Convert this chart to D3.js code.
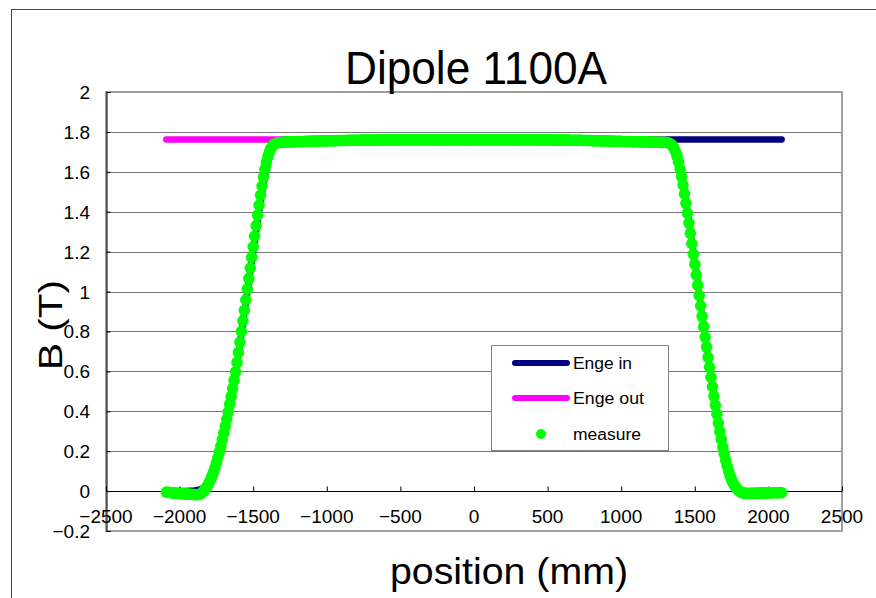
<!DOCTYPE html>
<html><head><meta charset="utf-8">
<script src="https://cdn.jsdelivr.net/npm/d3@7/dist/d3.min.js"></script>
<style>body{margin:0;background:#fff}svg{display:block}</style>
</head><body>
<svg id="chart" width="876" height="598"></svg>
<script>
// ---------------- data ----------------
const chartTitle = "Dipole 1100A";
const xTitle = "position (mm)";
const yTitle = "B (T)";
const seriesNames = ["Enge in", "Enge out", "measure"];
const xTickValues = [-2500,-2000,-1500,-1000,-500,0,500,1000,1500,2000,2500];
const xTickLabels = ["\u22122500","\u22122000","\u22121500","\u22121000","\u2212500","0","500","1000","1500","2000","2500"];
const yTickValues = [-0.2,0,0.2,0.4,0.6,0.8,1,1.2,1.4,1.6,1.8,2];
const yTickLabels = ["\u22120.2","0","0.2","0.4","0.6","0.8","1","1.2","1.4","1.6","1.8","2"];

// measured field, sampled every 10 mm starting at -2090 mm
const measureStart = -2090, measureStep = 10;
const measureB = [
-0.005,-0.006,-0.007,-0.008,-0.009,-0.010,-0.010,-0.011,-0.012,-0.012,
-0.013,-0.013,-0.014,-0.014,-0.015,-0.015,-0.016,-0.016,-0.017,-0.017,
-0.018,-0.018,-0.017,-0.015,-0.010,
-0.003,0.005,0.015,0.027,0.041,0.057,0.075,0.095,0.117,0.141,
0.167,0.195,0.225,0.257,0.291,0.325,0.360,0.397,0.435,0.474,
0.514,0.555,
0.598,0.645,0.695,0.747,0.800,0.853,0.906,0.959,1.012,1.065,
1.118,1.171,1.224,1.277,1.330,1.382,1.433,1.482,1.529,1.573,
1.613,1.648,1.677,1.700,1.717,1.729,1.736,1.741,1.744,1.746,
1.747,1.748,1.748,
1.749,1.749,1.749,1.750,1.750,1.750,1.750,1.751,1.751,
1.751,1.751,1.752,1.752,1.752,1.752,1.753,1.753,1.753,1.753,
1.754,1.754,1.754,1.754,1.754,1.755,1.755,1.755,1.755,1.755,
1.755,1.756,1.756,1.756,1.756,1.756,1.756,1.757,1.757,1.757,
1.757,1.757,1.757,1.757,1.758,1.758,1.758,1.758,1.758,1.758,
1.758,1.758,1.758,1.759,1.759,1.759,1.759,1.759,1.759,1.759,
1.759,1.759,1.759,1.759,1.759,1.760,1.760,1.760,1.760,1.760,
1.760,1.760,1.760,1.760,1.760,1.760,1.760,1.760,1.760,1.760,
1.760,1.761,1.760,1.760,1.761,1.760,1.760,1.760,1.761,1.760,
1.760,1.760,1.761,1.760,1.760,1.760,1.761,1.760,1.760,1.760,
1.761,1.760,1.760,1.761,1.760,1.760,1.761,1.760,1.761,1.760,
1.760,1.761,1.760,1.760,1.761,1.760,1.760,1.761,1.760,1.760,
1.761,1.760,1.760,1.761,1.760,1.761,1.760,1.760,1.761,1.760,
1.760,1.761,1.760,1.760,1.761,1.760,1.760,1.761,1.760,1.760,
1.761,1.760,1.760,1.760,1.761,1.760,1.760,1.761,1.760,1.760,
1.760,1.761,1.760,1.760,1.760,1.761,1.760,1.760,1.760,1.760,
1.760,1.760,1.761,1.760,1.760,1.760,1.760,1.760,1.761,1.760,
1.760,1.760,1.760,1.760,1.760,1.760,1.760,1.760,1.760,1.760,
1.760,1.760,1.760,1.759,1.760,1.759,1.759,1.759,1.759,1.759,
1.759,1.759,1.759,1.759,1.759,1.758,1.758,1.758,1.758,1.758,
1.758,1.758,1.758,1.758,1.757,1.757,1.757,1.757,1.757,1.757,
1.756,1.756,1.756,1.756,1.756,1.756,1.755,1.755,1.755,1.755,
1.755,1.754,1.754,1.754,1.754,1.754,1.753,1.753,1.753,1.753,
1.753,1.752,1.752,1.752,1.752,1.752,1.751,1.751,1.751,1.751,
1.751,1.751,1.750,1.750,1.750,1.750,1.750,1.750,1.749,1.749,
1.749,1.749,1.749,1.748,1.748,1.748,1.748,1.748,1.748,1.748,
1.748,1.747,1.745,1.742,1.737,1.729,1.717,1.700,1.677,1.648,
1.614,1.576,1.534,1.489,1.442,1.393,1.343,1.292,1.240,1.188,
1.136,1.084,1.032,0.980,0.928,0.876,0.824,0.772,0.721,0.670,
0.620,0.571,0.523,0.476,0.430,0.385,0.341,0.299,0.259,0.221,
0.186,0.154,0.125,0.099,0.076,0.057,0.041,0.028,0.017,0.008,
0.001,-0.004,-0.008,-0.010,-0.011,
-0.012,-0.012,-0.012,-0.012,-0.011,-0.011,-0.011,-0.011,-0.010,-0.010,
-0.010,-0.010,-0.010,-0.009,-0.009,-0.009,-0.009,-0.009,-0.009,-0.008,
-0.008,-0.008,-0.008,-0.008,-0.008
];

// Enge fit, entrance edge
const engeInX = [-2090,-1960,-1900,-1880,-1860,-1840,-1820,-1800,-1780,-1760,-1740,-1720,-1700,-1680,-1660,-1640,-1620,-1600,-1580,-1560,-1540,-1520,-1500,-1480,-1460,-1440,-1420,-1400,-1380,-1360,-1340,-1320,-1300,-1280,2090];
const engeInB = [0.000,0.001,0.003,0.005,0.009,0.015,0.025,0.042,0.070,0.110,0.160,0.220,0.287,0.358,0.433,0.512,0.597,0.690,0.790,0.893,0.997,1.101,1.204,1.306,1.404,1.496,1.578,1.645,1.695,1.728,1.747,1.756,1.760,1.762,1.762];
// Enge fit, exit edge
const engeOutX = [-2090,1280,1300,1320,1340,1360,1380,1400,1420,1440,1460,1480,1500,1520,1540,1560,1580,1600,1620,1640,1660,1680,1700,1720,1740,1760,1780,1800,1820,1840,1900,2090];
const engeOutB = [1.762,1.762,1.760,1.755,1.744,1.722,1.685,1.630,1.556,1.465,1.362,1.255,1.148,1.042,0.937,0.833,0.730,0.628,0.530,0.436,0.348,0.268,0.197,0.137,0.088,0.052,0.028,0.013,0.005,0.002,0.000,0.000];

const colors = {in: "#000080", out: "#ff00ff", meas: "#00ff00"};

// ---------------- drawing ----------------
const svg = d3.select("#chart");
const FONT = "'Liberation Sans Narrow','Liberation Sans',Arial,sans-serif";
const L = 106, R = 842, T = 92, B = 531;
const x = d3.scaleLinear().domain([-2500, 2500]).range([L, R]);
const y = d3.scaleLinear().domain([-0.2, 2]).range([B, T]);

// chart frame
svg.append("rect").attr("x", 11.5).attr("y", 9.5).attr("width", 900).attr("height", 700)
  .attr("fill", "#fff").attr("stroke", "#444").attr("stroke-width", 1);

// plot area
svg.append("rect").attr("x", L).attr("y", T).attr("width", R - L).attr("height", B - T).attr("fill", "#fff");

// gridlines
svg.append("g").selectAll("line").data(yTickValues.filter(v => v > 0.01 && v < 1.99)).join("line")
  .attr("x1", L).attr("x2", R)
  .attr("y1", d => Math.round(y(d)) + 0.5).attr("y2", d => Math.round(y(d)) + 0.5)
  .attr("stroke", "#767676").attr("stroke-width", 1);

// plot border
svg.append("rect").attr("x", L).attr("y", T).attr("width", R - L).attr("height", B - T)
  .attr("fill", "none").attr("stroke", "#a0a0a0").attr("stroke-width", 2);

// y axis (ticks inward)
const yAxis = d3.axisRight(y).tickValues(yTickValues).tickSize(4).tickFormat("");
const gy = svg.append("g").attr("transform", `translate(${L + 0.5},0)`).call(yAxis);
gy.select(".domain").attr("stroke", "#000");
gy.selectAll(".tick line").attr("stroke", "#000");
svg.append("g").selectAll("text").data(yTickValues).join("text")
  .attr("x", 90).attr("y", d => y(d) + 7)
  .attr("text-anchor", "end").attr("font-family", FONT).attr("font-size", 19).attr("fill", "#000")
  .text((d, i) => yTickLabels[i]);

// x axis at y=0 (ticks upward)
const xAxis = d3.axisTop(x).tickValues(xTickValues).tickSize(5).tickFormat("");
const gx = svg.append("g").attr("transform", `translate(0,${Math.round(y(0)) + 0.5})`).call(xAxis);
gx.select(".domain").attr("stroke", "#000").attr("d", `M${L},0H${R}`);
gx.selectAll(".tick line").attr("stroke", "#000");
svg.append("g").selectAll("text").data(xTickValues).join("text")
  .attr("x", d => x(d)).attr("y", 523)
  .attr("text-anchor", "middle").attr("font-family", FONT).attr("font-size", 19).attr("fill", "#000")
  .text((d, i) => xTickLabels[i]);

// series
const measure = measureB.map((b, i) => ({x: measureStart + i * measureStep, b}));
const line = d3.line().x(d => x(d[0])).y(d => y(d[1]));
svg.append("path").datum(engeInX.map((v, i) => [v, engeInB[i]])).attr("d", line)
  .attr("fill", "none").attr("stroke", colors.in).attr("stroke-width", 6.5)
  .attr("stroke-linecap", "round").attr("stroke-linejoin", "round");
svg.append("path").datum(engeOutX.map((v, i) => [v, engeOutB[i]])).attr("d", line)
  .attr("fill", "none").attr("stroke", colors.out).attr("stroke-width", 6.5)
  .attr("stroke-linecap", "round").attr("stroke-linejoin", "round");
svg.append("g").selectAll("circle").data(measure).join("circle")
  .attr("cx", d => x(d.x)).attr("cy", d => y(d.b)).attr("r", 5.8).attr("fill", colors.meas);

// legend
const lg = svg.append("g");
lg.append("rect").attr("x", 491.5).attr("y", 345.5).attr("width", 177).attr("height", 105)
  .attr("fill", "#fff").attr("stroke", "#808080").attr("stroke-width", 1);
const legY = [363, 398, 434];
const legLen = [59, 71, 68];
lg.append("line").attr("x1", 515).attr("x2", 567).attr("y1", legY[0]).attr("y2", legY[0])
  .attr("stroke", colors.in).attr("stroke-width", 6).attr("stroke-linecap", "round");
lg.append("line").attr("x1", 515).attr("x2", 567).attr("y1", legY[1]).attr("y2", legY[1])
  .attr("stroke", colors.out).attr("stroke-width", 6).attr("stroke-linecap", "round");
lg.append("circle").attr("cx", 541).attr("cy", legY[2]).attr("r", 5).attr("fill", colors.meas);
lg.selectAll("text").data(seriesNames).join("text")
  .attr("x", 573).attr("y", (d, i) => legY[i] + 6)
  .attr("font-family", "'Liberation Sans',Arial,sans-serif").attr("font-size", 16).attr("fill", "#000")
  .attr("textLength", (d, i) => legLen[i]).attr("lengthAdjust", "spacingAndGlyphs")
  .text(d => d);

// titles
svg.append("text").attr("x", 345).attr("y", 84).attr("font-family", FONT).attr("font-size", 47)
  .attr("textLength", 262).attr("lengthAdjust", "spacingAndGlyphs").text(chartTitle);
svg.append("text").attr("x", 390).attr("y", 584).attr("font-family", FONT).attr("font-size", 37)
  .attr("textLength", 238).attr("lengthAdjust", "spacingAndGlyphs").text(xTitle);
svg.append("text").attr("transform", "translate(62,325) rotate(-90)").attr("text-anchor", "middle")
  .attr("font-family", FONT).attr("font-size", 34)
  .attr("textLength", 90).attr("lengthAdjust", "spacingAndGlyphs").text(yTitle);
</script>
</body></html>
